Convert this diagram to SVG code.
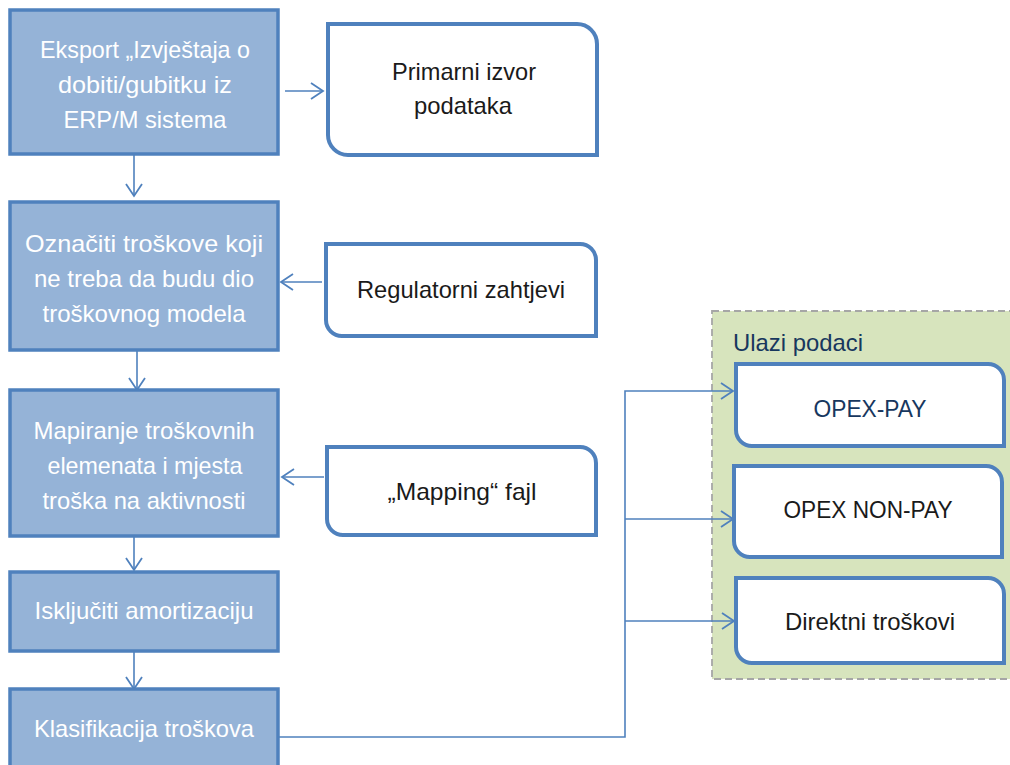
<svg xmlns="http://www.w3.org/2000/svg" width="1010" height="765" viewBox="0 0 1010 765">
<defs>
<style>
.step{fill:#95B3D7;stroke:#4F81BD;stroke-width:3.5}
.src{fill:#FFFFFF;stroke:#4F81BD;stroke-width:4}
.wt{font-family:"Liberation Sans",Arial,sans-serif;font-size:24px;fill:#FFFFFF;text-anchor:middle}
.bt{font-family:"Liberation Sans",Arial,sans-serif;font-size:24px;fill:#1A1A1A;text-anchor:middle}
.nt{font-family:"Liberation Sans",Arial,sans-serif;font-size:24px;fill:#17375E;text-anchor:middle}
.conn{fill:none;stroke:#4F81BD;stroke-width:1.6}
</style>
<marker id="arr" markerUnits="userSpaceOnUse" markerWidth="16" markerHeight="20" refX="13" refY="9" orient="auto" viewBox="0 0 16 18">
<path d="M1,1 L13,9 L1,17" fill="none" stroke="#4F81BD" stroke-width="1.8"/>
</marker>
</defs>

<g id="region-ulazi">
<rect x="712" y="311" width="310" height="368" fill="#D7E4BD" stroke="#A6A6A6" stroke-width="1.8" stroke-dasharray="7,4"/>
<text x="733" y="351" font-family="Liberation Sans,Arial,sans-serif" font-size="24" fill="#17375E" textLength="130" lengthAdjust="spacingAndGlyphs">Ulazi podaci</text>
</g>

<g id="connectors">
<line class="conn" x1="134" y1="155" x2="134" y2="196" marker-end="url(#arr)"/>
<line class="conn" x1="137" y1="350" x2="137" y2="390" marker-end="url(#arr)"/>
<line class="conn" x1="134" y1="536" x2="134" y2="570" marker-end="url(#arr)"/>
<line class="conn" x1="134" y1="651" x2="134" y2="689" marker-end="url(#arr)"/>
<line class="conn" x1="285" y1="91" x2="323" y2="91" marker-end="url(#arr)"/>
<line class="conn" x1="322" y1="282" x2="281" y2="282" marker-end="url(#arr)"/>
<line class="conn" x1="324" y1="477" x2="282" y2="477" marker-end="url(#arr)"/>
<polyline class="conn" points="279,737 625,737 625,391 733,391" marker-end="url(#arr)"/>
<line class="conn" x1="625" y1="519" x2="733" y2="519" marker-end="url(#arr)"/>
<line class="conn" x1="625" y1="621" x2="734" y2="621" marker-end="url(#arr)"/>
</g>

<g id="n1">
<rect class="step" x="10" y="10" width="268" height="144"/>
<text class="wt" x="145" y="58" textLength="210" lengthAdjust="spacingAndGlyphs">Eksport „Izvještaja o</text>
<text class="wt" x="145" y="93" textLength="174" lengthAdjust="spacingAndGlyphs">dobiti/gubitku iz</text>
<text class="wt" x="145" y="128" textLength="163" lengthAdjust="spacingAndGlyphs">ERP/M sistema</text>
</g>
<g id="n2">
<rect class="step" x="10" y="202" width="268" height="148"/>
<text class="wt" x="144" y="252" textLength="238" lengthAdjust="spacingAndGlyphs">Označiti troškove koji</text>
<text class="wt" x="144" y="287" textLength="220" lengthAdjust="spacingAndGlyphs">ne treba da budu dio</text>
<text class="wt" x="144" y="322" textLength="203" lengthAdjust="spacingAndGlyphs">troškovnog modela</text>
</g>
<g id="n3">
<rect class="step" x="10" y="390" width="268" height="146"/>
<text class="wt" x="144" y="439" textLength="221" lengthAdjust="spacingAndGlyphs">Mapiranje troškovnih</text>
<text class="wt" x="145" y="474" textLength="195" lengthAdjust="spacingAndGlyphs">elemenata i mjesta</text>
<text class="wt" x="144" y="509" textLength="203" lengthAdjust="spacingAndGlyphs">troška na aktivnosti</text>
</g>
<g id="n4">
<rect class="step" x="10" y="572" width="268" height="79"/>
<text class="wt" x="144" y="619" textLength="219" lengthAdjust="spacingAndGlyphs">Isključiti amortizaciju</text>
</g>
<g id="n5">
<rect class="step" x="10" y="689" width="268" height="90"/>
<text class="wt" x="144" y="737" textLength="220" lengthAdjust="spacingAndGlyphs">Klasifikacija troškova</text>
</g>

<g id="s1">
<path class="src" d="M328,24 H577 A20,20 0 0 1 597,44 V155 H348 A20,20 0 0 1 328,135 Z"/>
<text class="bt" x="464" y="80" textLength="144" lengthAdjust="spacingAndGlyphs">Primarni izvor</text>
<text class="bt" x="463" y="114" textLength="98" lengthAdjust="spacingAndGlyphs">podataka</text>
</g>
<g id="s2">
<path class="src" d="M326,244 H580 A16,16 0 0 1 596,260 V336 H342 A16,16 0 0 1 326,320 Z"/>
<text class="bt" x="461" y="298" textLength="208" lengthAdjust="spacingAndGlyphs">Regulatorni zahtjevi</text>
</g>
<g id="s3">
<path class="src" d="M327,447 H580 A16,16 0 0 1 596,463 V535 H343 A16,16 0 0 1 327,519 Z"/>
<text class="bt" x="462" y="500" textLength="149" lengthAdjust="spacingAndGlyphs">„Mapping“ fajl</text>
</g>

<g id="o1">
<path class="src" d="M736,364 H988 A16,16 0 0 1 1004,380 V446 H752 A16,16 0 0 1 736,430 Z"/>
<text class="nt" x="870" y="417" textLength="113" lengthAdjust="spacingAndGlyphs">OPEX-PAY</text>
</g>
<g id="o2">
<path class="src" d="M734,466 H986 A16,16 0 0 1 1002,482 V557 H750 A16,16 0 0 1 734,541 Z"/>
<text class="bt" x="868" y="518" textLength="169" lengthAdjust="spacingAndGlyphs">OPEX NON-PAY</text>
</g>
<g id="o3">
<path class="src" d="M736,578 H988 A16,16 0 0 1 1004,594 V663 H752 A16,16 0 0 1 736,647 Z"/>
<text class="bt" x="870" y="630" textLength="170" lengthAdjust="spacingAndGlyphs">Direktni troškovi</text>
</g>
</svg>
